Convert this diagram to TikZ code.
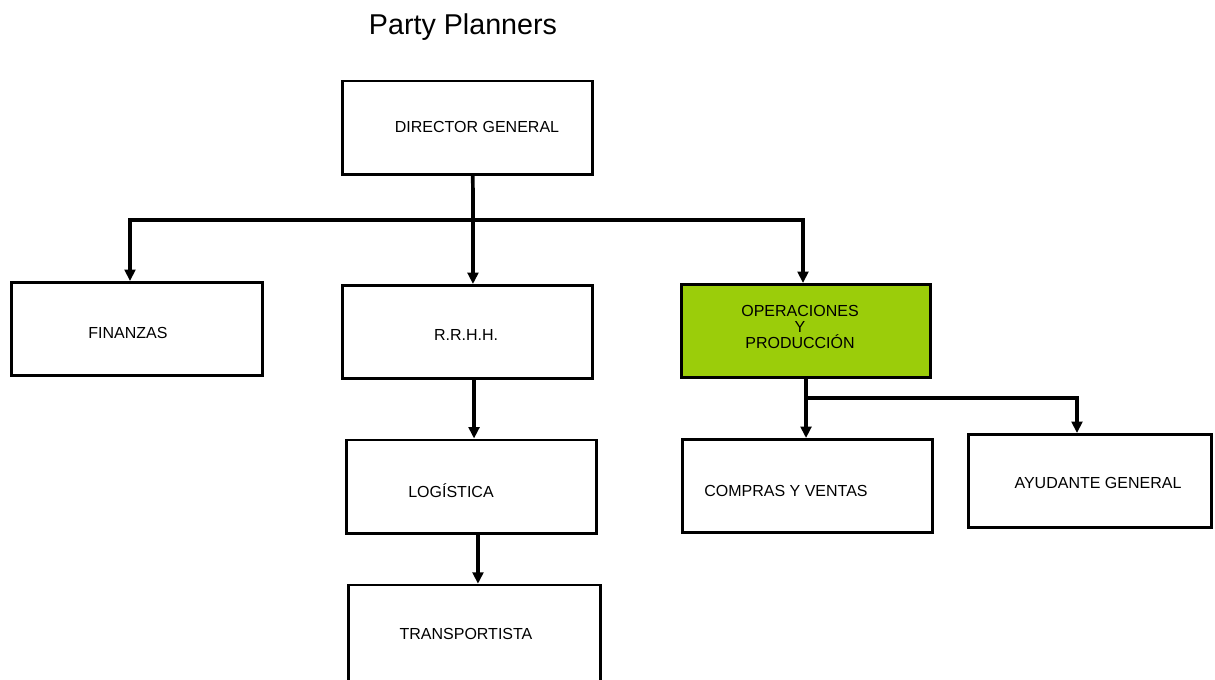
\documentclass[tikz,border=0pt]{standalone}
\usepackage{fontspec}
\setmainfont{Liberation Sans}
\usetikzlibrary{arrows.meta}
\definecolor{opsgreen}{RGB}{155,205,10}
\tikzset{
  box/.style={draw=black, line width=1.9pt, fill=white, minimum width=#1*0.75pt-1.9pt, minimum height=72pt-1.9pt, inner sep=0pt},
  box/.default=253,
  lbl/.style={font=\fontsize{12}{14}\selectfont},
  arr/.style={line width=2.8pt, -{Triangle[length=8.5pt,width=8pt]}},
  ln/.style={line width=2.8pt},
}
\begin{document}
\begin{tikzpicture}[x=0.75pt,y=-0.75pt]
\useasboundingbox (0,0) rectangle (1215,679);
\clip (0,0) rectangle (1215,679);
\fill[white] (0,0) rectangle (1215,679);
\node[font=\fontsize{21.5}{24}\selectfont] (title) at (463,27) {Party Planners};
\node[box] (dir) at (467.5,127.5) {};
\node[lbl] (dirt) at (477,127) {DIRECTOR GENERAL};
\node[box=254] (fin) at (137,329) {};
\node[lbl] (fint) at (128,333) {FINANZAS};
\node[box] (rrhh) at (467.5,332) {};
\node[lbl] (rrhht) at (466,335) {R.R.H.H.};
\node[box=252, fill=opsgreen] (ops) at (806,331) {};
\node[font=\fontsize{12}{12.3}\selectfont, align=center] (opst) at (800,327) {OPERACIONES\\Y\\PRODUCCIÓN};
\node[box] (log) at (471.5,486.5) {};
\node[lbl] (logt) at (451,491) {LOGÍSTICA};
\node[box] (cv) at (807.5,486) {};
\node[lbl] (cvt) at (786,491) {COMPRAS Y VENTAS};
\node[box=246] (ayu) at (1090,481) {};
\node[lbl] (ayut) at (1098,483) {AYUDANTE GENERAL};
\node[box=255, minimum height=90pt] (trans) at (474.5,645) {};
\node[lbl] (transt) at (466,634) {TRANSPORTISTA};
% connectors
\coordinate (bus) at (473,220);
\draw[ln] ([xshift=4pt]dir.south) -- (bus);
\draw[arr] (bus) -| ([xshift=-5.25pt]fin.north);
\draw[arr] (bus) -| ([xshift=4.1pt]rrhh.north);
\draw[arr] (bus) -| ([xshift=-2.25pt]ops.north);
\draw[arr] ([xshift=4.9pt]rrhh.south) -- ([xshift=1.9pt]log.north);
\draw[arr] ([xshift=4.9pt]log.south) -- ([xshift=2.6pt]trans.north);
\coordinate (opsbus) at (806,398);
\draw[arr] (ops.south) -- ([xshift=-1.1pt]cv.north);
\draw[arr] (opsbus) -| ([xshift=-9.75pt]ayu.north);
\end{tikzpicture}
\end{document}
